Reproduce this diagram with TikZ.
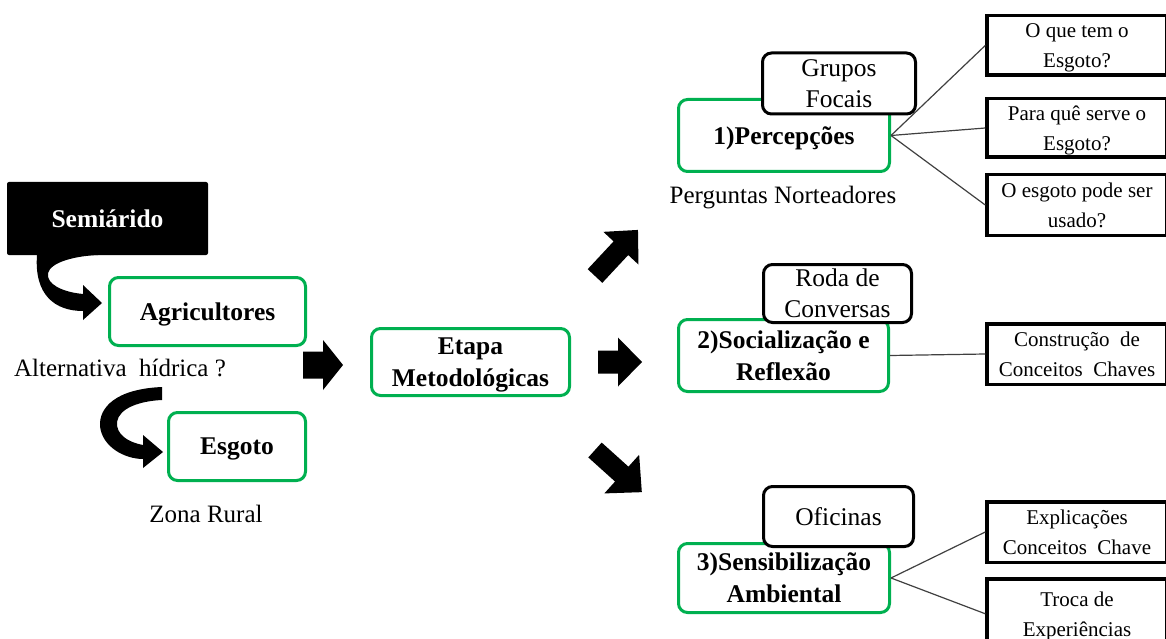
\documentclass[tikz,border=0pt]{standalone}
\usepackage{fontspec}
\setmainfont{Liberation Serif}
\definecolor{boxgreen}{RGB}{0,176,80}
\newcommand\myblockarrow[6]{%
  \fill[black,shift={(#1)},rotate=#2] (0,-#5) -- ({#3-#4},-#5) -- ({#3-#4},-#6) -- (#3,0) -- ({#3-#4},#6) -- ({#3-#4},#5) -- (0,#5) -- cycle;}
\begin{document}
\begin{tikzpicture}[x=1pt,y=-1pt,
  greenbox/.style={draw=boxgreen, line width=3pt, rounded corners=9pt, fill=white, inner sep=0pt, text depth=0pt, align=center, font=\bfseries\fontsize{25.5}{32}\selectfont},
  tagbox/.style={draw=black, line width=3pt, rounded corners=9pt, fill=white, inner sep=0pt, align=center, font=\fontsize{25.5}{31}\selectfont},
  qbox/.style={draw=black, line width=3.5pt, fill=white, inner sep=0pt, text depth=0pt, align=center, minimum width=180pt, font=\fontsize{21}{30}\selectfont},
  plainlabel/.style={inner sep=0pt, font=\fontsize{25}{30}\selectfont},
  link/.style={draw=black!75, line width=1.2pt}]
\useasboundingbox (0,0) rectangle (1166,639);

% left column
\node[fill=black, rounded corners=2pt, minimum width=201pt, minimum height=73pt, inner sep=0pt,
      text=white, font=\bfseries\fontsize{25.5}{32}\selectfont] (semi) at (107.5,218.5) {Semiárido};
\node[greenbox, minimum width=196pt, minimum height=68pt] (agri) at (207.5,311.5) {Agricultores};
\node[greenbox, minimum width=137pt, minimum height=68pt] (esg) at (237,446.5) {Esgoto};
\node[plainlabel] (alt) at (120,368) {Alternativa\ \ hídrica ?};
\node[plainlabel] (zona) at (206,514) {Zona Rural};

% curved block arrows
\fill[black] (37,255) .. controls (34,295) and (55,311) .. (83,311)
  -- (83,320) -- (102,303) -- (83,285) -- (83,294)
  .. controls (62,292) and (46,284) .. (48,273)
  .. controls (51,262) and (75,256) .. (98,255) -- cycle;
\fill[black] (162,387) .. controls (115,389) and (99,408) .. (100,426)
  .. controls (102,447) and (125,459) .. (143,459)
  -- (143,468) -- (163,452) -- (143,435) -- (143,445)
  .. controls (127,442) and (116,434) .. (117,422)
  .. controls (119,408) and (140,401) .. (162,400) -- cycle;

% centre
\node[greenbox, minimum width=198pt, minimum height=67pt] (etapa) at (470.5,362) {Etapa\\Metodológicas};
\myblockarrow{303,365}{0}{40}{20}{13.5}{25}
\myblockarrow{598,362}{0}{44}{24}{11.5}{24.5}
\myblockarrow{595,276}{47}{63}{25}{10}{24}
\myblockarrow{595,450}{-42}{63}{27}{10}{26}

% 1) Percepcoes
\node[greenbox, minimum width=211pt, minimum height=72pt] (perc) at (784,135.5) {1)Percepções};
\node[tagbox, minimum width=153pt, minimum height=61pt] (grupos) at (839,83.5) {Grupos\\Focais};
\node[plainlabel] (perg) at (783,198) {Perguntas Norteadores};
\node[qbox, minimum height=59.5pt] (q1) at (1077,45.5) {O que tem o\\Esgoto?};
\node[qbox, minimum height=58.5pt] (q2) at (1077,128) {Para quê serve o\\Esgoto?};
\node[qbox, minimum height=60.5pt] (q3) at (1077,205) {O esgoto pode ser\\usado?};
\draw[link] (perc.east) -- (q1.west);
\draw[link] (perc.east) -- (q2.west);
\draw[link] (perc.east) -- (q3.west);

% 2) Socializacao
\node[greenbox, minimum width=210pt, minimum height=72pt] (soc) at (783.5,355.5) {2)Socialização e\\Reflexão};
\node[tagbox, minimum width=148pt, minimum height=58pt] (roda) at (837.5,293.5) {Roda de\\Conversas};
\node[qbox, minimum height=60.5pt] (cons) at (1077,354) {Construção\ \ de\\Conceitos\ \ Chaves};
\draw[link] (soc.east) -- (cons.west);

% 3) Sensibilizacao
\node[greenbox, minimum width=211pt, minimum height=69pt] (sens) at (784,578) {3)Sensibilização\\Ambiental};
\node[tagbox, minimum width=150pt, minimum height=60pt] (ofic) at (838.5,516.5) {Oficinas};
\node[qbox, minimum height=60.5pt] (expl) at (1077,532) {Explicações\\Conceitos\ \ Chave};
\node[qbox, minimum height=70pt] (troca) at (1077,613.75) {Troca de\\Experiências};
\draw[link] (sens.east) -- (expl.west);
\draw[link] (sens.east) -- (troca.west);
\end{tikzpicture}
\end{document}
